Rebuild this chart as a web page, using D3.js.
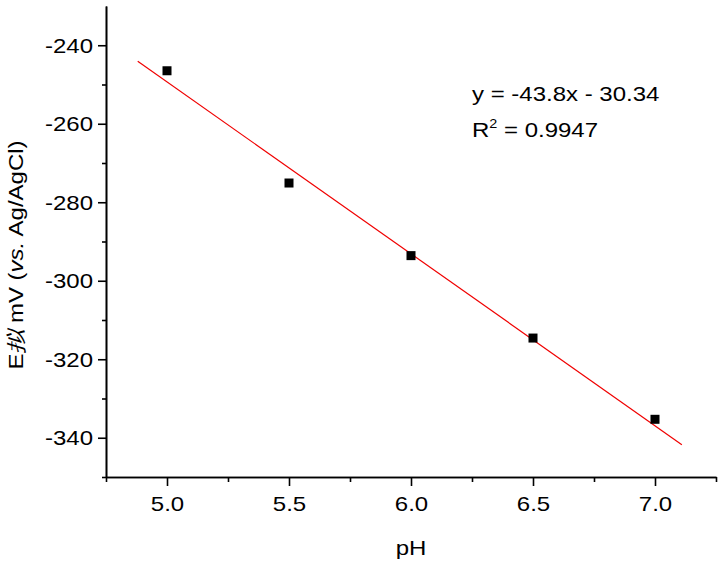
<!DOCTYPE html>
<html>
<head>
<meta charset="utf-8">
<script src="https://cdn.jsdelivr.net/npm/d3@7"></script>
<style>
  body { margin: 0; background: #fff; }
  text { font-family: "Liberation Sans", Arial, sans-serif; fill: #000; }
</style>
</head>
<body>
<script>
// data
var pH = [5.0, 5.5, 6.0, 6.5, 7.0];
var potential = [-246.5, -275.1, -293.6, -314.6, -335.3];
var fitSlope = -43.8;
var fitIntercept = -30.34;
var fitRange = [4.88, 7.11];
var xMajor = [5.0, 5.5, 6.0, 6.5, 7.0];
var xMinor = [4.75, 5.25, 5.75, 6.25, 6.75, 7.25];
var yMajor = [-240, -260, -280, -300, -320, -340];
var yMinor = [-250, -270, -290, -310, -330, -350];

var W = 722, H = 565;
var stretch = 'scale(1.2,1)';

var svg = d3.select('body').append('svg')
    .attr('width', W)
    .attr('height', H);

var x = d3.scaleLinear().domain([4.75, 7.25]).range([106, 716]);
var y = d3.scaleLinear().domain([-350, -230]).range([477, 6]);

// fit line
svg.append('line')
    .attr('x1', x(fitRange[0]))
    .attr('y1', y(fitSlope * fitRange[0] + fitIntercept))
    .attr('x2', x(fitRange[1]))
    .attr('y2', y(fitSlope * fitRange[1] + fitIntercept))
    .attr('stroke', '#f00000')
    .attr('stroke-width', 1.2);

// points
svg.selectAll('rect.pt')
    .data(pH)
    .enter().append('rect')
    .attr('class', 'pt')
    .attr('x', function(d) { return x(d) - 4.5; })
    .attr('y', function(d, i) { return y(potential[i]) - 4.5; })
    .attr('width', 9)
    .attr('height', 9)
    .attr('fill', '#000');

// x axis
var gx = svg.append('g').attr('transform', 'translate(0,' + y(-350) + ')');
gx.call(d3.axisBottom(x).tickValues(xMajor).tickSize(9).tickSizeOuter(0)
    .tickFormat(function(d) { return d.toFixed(1); }));
gx.append('g').call(d3.axisBottom(x).tickValues(xMinor).tickSize(5).tickSizeOuter(0)
    .tickFormat(''));
gx.selectAll('text')
    .attr('y', 34)
    .attr('dy', 0)
    .attr('transform', stretch)
    .style('font-size', '20px');

// y axis (plain hyphen for the minus, as in the original)
var gy = svg.append('g').attr('transform', 'translate(' + x(4.75) + ',0)');
gy.call(d3.axisLeft(y).tickValues(yMajor).tickSize(8).tickSizeOuter(0)
    .tickFormat(function(d) { return String(d); }));
gy.append('g').call(d3.axisLeft(y).tickValues(yMinor).tickSize(4).tickSizeOuter(0)
    .tickFormat(''));
gy.selectAll('text')
    .attr('x', 0)
    .attr('dy', '0.35em')
    .attr('transform', 'translate(-13,0) ' + stretch)
    .style('font-size', '20px');

svg.selectAll('.domain, .tick line')
    .attr('stroke', '#000')
    .attr('stroke-width', 1.6);

// axis titles
svg.append('text')
    .attr('transform', 'translate(411,555) ' + stretch)
    .attr('text-anchor', 'middle')
    .style('font-size', '20px')
    .text('pH');

var yl = svg.append('text')
    .attr('transform', 'translate(23,255) rotate(-90) ' + stretch)
    .attr('text-anchor', 'middle')
    .style('font-size', '20px');
yl.append('tspan').text('E');
yl.append('tspan').style('font-style', 'italic').text('拟');
yl.append('tspan').text(' mV (');
yl.append('tspan').style('font-style', 'italic').text('vs.');
yl.append('tspan').text(' Ag/AgCl)');

// fit annotation
svg.append('text')
    .attr('transform', 'translate(472,101) ' + stretch)
    .style('font-size', '20px')
    .text('y = -43.8x - 30.34');

var r2 = svg.append('text')
    .attr('transform', 'translate(472,137) ' + stretch)
    .style('font-size', '20px');
r2.append('tspan').text('R');
r2.append('tspan').attr('dy', -9).style('font-size', '12px').text('2');
r2.append('tspan').attr('dy', 9).text(' = 0.9947');
</script>
</body>
</html>
